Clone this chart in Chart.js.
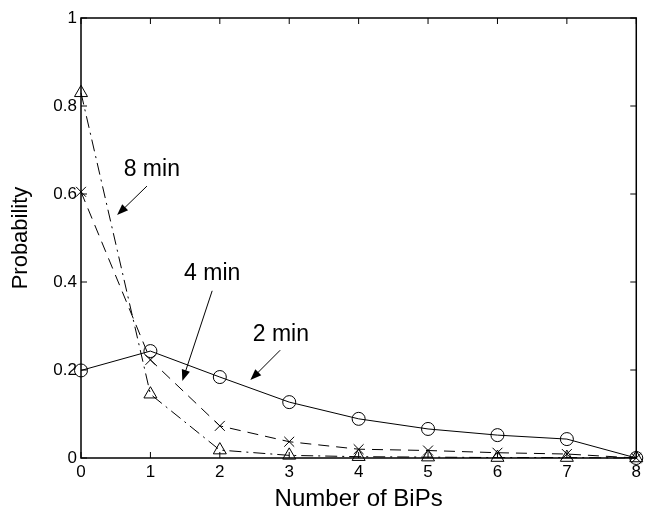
<!DOCTYPE html>
<html>
<head>
<meta charset="utf-8">
<script src="https://cdn.jsdelivr.net/npm/chart.js@4/dist/chart.umd.min.js"></script>
<style>
  html, body { margin: 0; padding: 0; background: #fff; }
  #wrap { width: 645px; height: 514px; }
</style>
</head>
<body>
<div id="wrap"><canvas id="c"></canvas></div>
<script>
// --- data ---
const bips = [0, 1, 2, 3, 4, 5, 6, 7, 8];
const twoMin = [0.199, 0.243, 0.184, 0.127, 0.089, 0.066, 0.052, 0.043, 0.0];
const fourMin = [0.605, 0.223, 0.073, 0.037, 0.020, 0.017, 0.012, 0.009, 0.0];
const eightMin = [0.830, 0.145, 0.018, 0.006, 0.003, 0.002, 0.001, 0.001, 0.0];
const yTicks = [0, 0.2, 0.4, 0.6, 0.8, 1];

// labels with arrows, in data units: text position, arrow tail, arrow head
const notes = [
    { text: '8 min', at: [1.02, 0.655], from: [0.95, 0.618], to: [0.52, 0.552] },
    { text: '4 min', at: [1.89, 0.418], from: [1.89, 0.380], to: [1.46, 0.175] },
    { text: '2 min', at: [2.88, 0.280], from: [2.87, 0.245], to: [2.44, 0.177] },
];

const FONT = 'Liberation Sans, Arial, sans-serif';

function series(values) {
    return values.map((v, i) => ({ x: bips[i], y: v }));
}

// box with inward ticks on all four sides, plus the arrow labels
const matlabFrame = {
    id: 'matlabFrame',
    afterDatasetsDraw(chart) {
        const { ctx, chartArea: a, scales: { x, y } } = chart;
        ctx.save();
        ctx.strokeStyle = '#000';
        ctx.lineWidth = 1.5;
        ctx.setLineDash([]);
        ctx.strokeRect(a.left, a.top, a.right - a.left, a.bottom - a.top);
        ctx.lineWidth = 1;
        const t = 6;
        bips.forEach(v => {
            const px = x.getPixelForValue(v);
            ctx.beginPath();
            ctx.moveTo(px, a.bottom); ctx.lineTo(px, a.bottom - t);
            ctx.moveTo(px, a.top); ctx.lineTo(px, a.top + t);
            ctx.stroke();
        });
        yTicks.forEach(v => {
            const py = y.getPixelForValue(v);
            ctx.beginPath();
            ctx.moveTo(a.left, py); ctx.lineTo(a.left + t, py);
            ctx.moveTo(a.right, py); ctx.lineTo(a.right - t, py);
            ctx.stroke();
        });

        ctx.fillStyle = '#000';
        ctx.font = '23px ' + FONT;
        ctx.textAlign = 'center';
        ctx.textBaseline = 'middle';
        notes.forEach(n => {
            ctx.fillText(n.text, x.getPixelForValue(n.at[0]), y.getPixelForValue(n.at[1]));
            const x0 = x.getPixelForValue(n.from[0]), y0 = y.getPixelForValue(n.from[1]);
            const x1 = x.getPixelForValue(n.to[0]), y1 = y.getPixelForValue(n.to[1]);
            const ang = Math.atan2(y1 - y0, x1 - x0);
            const len = 12, half = 0.36;
            ctx.beginPath();
            ctx.moveTo(x0, y0);
            ctx.lineTo(x1 - Math.cos(ang) * len * 0.8, y1 - Math.sin(ang) * len * 0.8);
            ctx.stroke();
            ctx.beginPath();
            ctx.moveTo(x1, y1);
            ctx.lineTo(x1 - len * Math.cos(ang - half), y1 - len * Math.sin(ang - half));
            ctx.lineTo(x1 - len * Math.cos(ang + half), y1 - len * Math.sin(ang + half));
            ctx.closePath();
            ctx.fill();
        });
        ctx.restore();
    }
};

const common = {
    borderColor: '#000',
    backgroundColor: 'rgba(0,0,0,0)',
    pointBorderColor: '#000',
    pointBackgroundColor: 'rgba(0,0,0,0)',
    borderWidth: 1,
    pointBorderWidth: 1,
    tension: 0,
    clip: false,
};

new Chart(document.getElementById('c'), {
    type: 'line',
    data: {
        datasets: [
            { ...common, label: '2 min', data: series(twoMin), pointStyle: 'circle', pointRadius: 6.5 },
            { ...common, label: '4 min', data: series(fourMin), pointStyle: 'crossRot', pointRadius: 7, borderDash: [11, 7] },
            { ...common, label: '8 min', data: series(eightMin), pointStyle: 'triangle', pointRadius: 7.5, borderDash: [12, 5, 2, 5] },
        ]
    },
    options: {
        responsive: true,
        maintainAspectRatio: false,
        animation: false,
        layout: { padding: { top: 18, right: 4, left: 0, bottom: 0 } },
        plugins: {
            legend: { display: false },
            tooltip: { enabled: false },
        },
        scales: {
            x: {
                type: 'linear',
                min: 0,
                max: 8,
                grid: { display: false, drawTicks: false },
                border: { display: false },
                afterBuildTicks: s => { s.ticks = bips.map(v => ({ value: v })); },
                afterFit: s => { s.height = 56; },
                ticks: { color: '#000', font: { family: FONT, size: 17 }, padding: 4, maxRotation: 0, callback: v => String(v) },
                title: { display: true, text: 'Number of BiPs', color: '#000', font: { family: FONT, size: 24 }, padding: { top: 0, bottom: 0 } },
            },
            y: {
                min: 0,
                max: 1,
                grid: { display: false, drawTicks: false },
                border: { display: false },
                afterBuildTicks: s => { s.ticks = yTicks.map(v => ({ value: v })); },
                afterFit: s => { s.width = 81; },
                ticks: { color: '#000', font: { family: FONT, size: 17 }, padding: 4, callback: v => String(v) },
                title: { display: true, text: 'Probability', color: '#000', font: { family: FONT, size: 22 }, padding: { top: 8, bottom: 0 } },
            }
        }
    },
    plugins: [matlabFrame]
});
</script>
</body>
</html>
